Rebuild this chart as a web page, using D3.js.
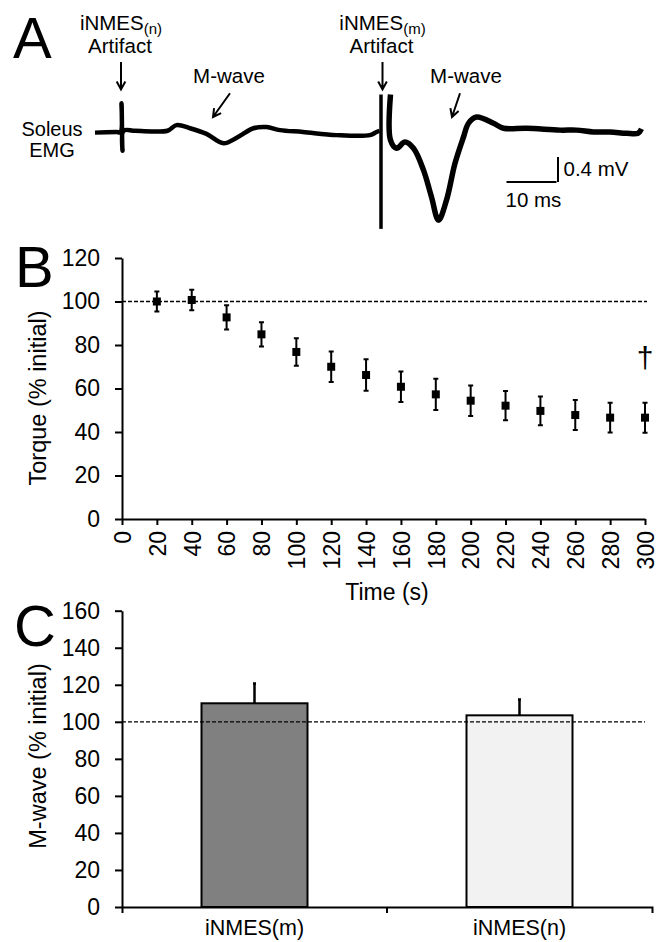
<!DOCTYPE html>
<html>
<head>
<meta charset="utf-8">
<script src="https://cdn.jsdelivr.net/npm/d3@7"></script>
<style>
  body { margin: 0; background: #fff; }
  text { font-family: Arial, "Liberation Sans", sans-serif; fill: #000; }
</style>
</head>
<body>
<script>
// Panel A: soleus EMG trace (ms, mV)
const emgTimeA = [0, 4.3, 5.1, 5.3, 5.5, 5.7, 8, 14.5, 16.3, 19, 22.3, 25.7, 28.6, 31.7, 34.3, 37, 41.6, 48.3, 55, 56.3, 56.9];
const emgVoltA = [-0.01, 0, 0, 0.46, -0.3, 0.02, 0.02, 0.02, 0.11, 0.06, -0.03, -0.18, -0.08, 0.06, 0.08, 0.03, 0, -0.05, -0.05, 0, 0.02];
const artifactTime = [57.2, 57.2];
const artifactVolt = [0.6, -1.55];
const emgTimeB = [59.1, 59.1, 60.3, 62, 63.7, 65.7, 67.3, 68.7, 70.3, 72, 73.7, 74.7, 76.3, 79.7, 81.7, 86.3, 93, 96.3, 99.7, 103, 106.3, 108.6, 109.3];
const emgVoltB = [0.6, -0.13, -0.26, -0.16, -0.26, -0.61, -1.04, -1.41, -1.09, -0.5, -0.08, 0.14, 0.24, 0.14, 0.06, 0.06, 0.03, 0.03, 0, 0, -0.02, -0.02, 0.05];

// Panel B: torque over time
const timeS = [20, 40, 60, 80, 100, 120, 140, 160, 180, 200, 220, 240, 260, 280, 300];
const torqueMean = [100, 100.7, 92.7, 84.9, 76.8, 70, 66.2, 60.8, 57.3, 54.4, 52.1, 49.7, 47.8, 46.6, 46.6];
const torqueErr = [4.6, 4.7, 5.6, 5.6, 6.3, 7, 7.2, 7, 7.2, 7, 6.7, 6.6, 6.9, 6.8, 6.9];
const timeTicks = [0, 20, 40, 60, 80, 100, 120, 140, 160, 180, 200, 220, 240, 260, 280, 300];
const torqueTicks = [0, 20, 40, 60, 80, 100, 120];

// Panel C: M-wave amplitude
const groups = ["iNMES(m)", "iNMES(n)"];
const mwaveMean = [110, 103.5];
const mwaveErr = [10.7, 8.6];
const mwaveTicks = [0, 20, 40, 60, 80, 100, 120, 140, 160];

const W = 658, H = 942;
const fillFor = { "iNMES(m)": "#808080", "iNMES(n)": "#f2f2f2" };

const svg = d3.select("body").append("svg")
  .attr("width", W)
  .attr("height", H);

// Panel letters
[["A", 13, 58], ["B", 15, 287], ["C", 14, 646]].forEach(function(p) {
  svg.append("text").attr("x", p[1]).attr("y", p[2])
    .style("font-size", "58px").text(p[0]);
});

function arrow(g, x1, y1, x2, y2) {
  const a = Math.atan2(y2 - y1, x2 - x1);
  const L = 9, s = 0.5;
  g.append("path")
    .attr("d", "M" + x1 + "," + y1 + "L" + x2 + "," + y2 +
      "M" + (x2 - L * Math.cos(a - s)) + "," + (y2 - L * Math.sin(a - s)) +
      "L" + x2 + "," + y2 +
      "L" + (x2 - L * Math.cos(a + s)) + "," + (y2 - L * Math.sin(a + s)))
    .attr("fill", "none").attr("stroke", "#000").attr("stroke-width", 2);
}

// ---------- Panel A ----------
const xA = d3.scaleLinear().domain([0, 110]).range([95, 645]);
const yA = d3.scaleLinear().domain([0, 0.4]).range([132, 107]);
const gA = svg.append("g");

const traceLine = d3.line()
  .x(function(d) { return xA(d[0]); })
  .y(function(d) { return yA(d[1]); })
  .curve(d3.curveCatmullRom.alpha(0.5));

gA.append("path")
  .datum(d3.zip(emgTimeA, emgVoltA))
  .attr("d", traceLine)
  .attr("fill", "none").attr("stroke", "#000")
  .attr("stroke-width", 4.5).attr("stroke-linejoin", "round");

gA.append("path")
  .datum(d3.zip(artifactTime, artifactVolt))
  .attr("d", d3.line().x(function(d) { return xA(d[0]); }).y(function(d) { return yA(d[1]); }))
  .attr("fill", "none").attr("stroke", "#000").attr("stroke-width", 3.5);

gA.append("path")
  .datum(d3.zip(emgTimeB, emgVoltB))
  .attr("d", traceLine)
  .attr("fill", "none").attr("stroke", "#000")
  .attr("stroke-width", 5.5).attr("stroke-linejoin", "round");

// labels and arrows
gA.append("text").attr("x", 52).attr("y", 136).attr("text-anchor", "middle")
  .style("font-size", "20px").text("Soleus");
gA.append("text").attr("x", 52).attr("y", 157).attr("text-anchor", "middle")
  .style("font-size", "20px").text("EMG");

function stimLabel(t, sub) {
  const lab = gA.append("text").attr("x", xA(t)).attr("y", yA(1.63))
    .attr("text-anchor", "middle").style("font-size", "20.5px");
  lab.append("tspan").text("iNMES");
  lab.append("tspan").attr("dy", 4).style("font-size", "15px").text("(" + sub + ")");
  gA.append("text").attr("x", xA(t) - 1).attr("y", yA(1.26))
    .attr("text-anchor", "middle").style("font-size", "20.5px").text("Artifact");
  arrow(gA, xA(t), yA(1.12), xA(t), yA(0.68));
}
stimLabel(5.2, "n");
stimLabel(57.5, "m");

gA.append("text").attr("x", xA(26.8)).attr("y", yA(0.78)).attr("text-anchor", "middle")
  .style("font-size", "20.5px").text("M-wave");
arrow(gA, xA(27), yA(0.62), xA(23.6), yA(0.24));
gA.append("text").attr("x", xA(74.2)).attr("y", yA(0.78)).attr("text-anchor", "middle")
  .style("font-size", "20.5px").text("M-wave");
arrow(gA, xA(73), yA(0.62), xA(71.4), yA(0.24));

// scale bar: 10 ms x 0.4 mV
const sbT = 82.3, sbV = -0.8;
gA.append("path")
  .attr("d", "M" + xA(sbT) + "," + yA(sbV) + "H" + xA(sbT + 10) +
    "M" + (xA(sbT + 10) + 1.5) + "," + yA(sbV) + "V" + yA(sbV + 0.4))
  .attr("fill", "none").attr("stroke", "#000").attr("stroke-width", 2);
gA.append("text").attr("x", xA(sbT + 10) + 7).attr("y", yA(sbV + 0.4) + 19)
  .style("font-size", "20.5px").text("0.4 mV");
gA.append("text").attr("x", xA(sbT) - 1).attr("y", yA(sbV) + 25)
  .style("font-size", "20.5px").text("10 ms");

// ---------- Panel B ----------
const xB = d3.scaleLinear().domain([0, 300]).range([122, 645]);
const yB = d3.scaleLinear().domain([0, 120]).range([519, 258]);
const gB = svg.append("g");

gB.append("line")
  .attr("x1", xB(0)).attr("x2", xB(300) + 2)
  .attr("y1", yB(100)).attr("y2", yB(100))
  .attr("stroke", "#000").attr("stroke-width", 1.3).attr("stroke-dasharray", "4,2");

const xAxisB = gB.append("g")
  .attr("transform", "translate(0," + yB(0) + ")")
  .call(d3.axisBottom(xB).tickValues(timeTicks).tickSize(6).tickSizeOuter(0));
xAxisB.selectAll("text")
  .attr("transform", "rotate(-90)")
  .attr("text-anchor", "end")
  .attr("x", -12).attr("y", 0).attr("dy", "0.36em");

const yAxisB = gB.append("g")
  .attr("transform", "translate(" + xB(0) + ",0)")
  .call(d3.axisLeft(yB).tickValues(torqueTicks).tickSize(7).tickPadding(15).tickSizeOuter(0));

[xAxisB, yAxisB].forEach(function(ax) {
  ax.select(".domain").attr("stroke-width", 2);
  ax.selectAll(".tick line").attr("stroke-width", 2);
  ax.selectAll("text").style("font-size", "23px").attr("font-family", null);
});

gB.selectAll(".err").data(timeS).enter().append("path")
  .attr("d", function(d, i) {
    const cx = xB(d), y1 = yB(torqueMean[i] + torqueErr[i]), y2 = yB(torqueMean[i] - torqueErr[i]);
    return "M" + cx + "," + y1 + "V" + y2 + "M" + (cx - 2.5) + "," + y1 + "H" + (cx + 2.5) +
      "M" + (cx - 2.5) + "," + y2 + "H" + (cx + 2.5);
  })
  .attr("fill", "none").attr("stroke", "#000").attr("stroke-width", 2);

gB.selectAll(".dot").data(timeS).enter().append("rect")
  .attr("x", function(d) { return xB(d) - 4; })
  .attr("y", function(d, i) { return yB(torqueMean[i]) - 4; })
  .attr("width", 8).attr("height", 8).attr("fill", "#000");

gB.append("text").attr("x", xB(300)).attr("y", yB(74) + 10)
  .attr("text-anchor", "middle").style("font-size", "30px").text("\u2020");

gB.append("text")
  .attr("x", 387).attr("y", 600)
  .attr("text-anchor", "middle").style("font-size", "23px").text("Time (s)");
gB.append("text")
  .attr("transform", "translate(46,398) rotate(-90)")
  .attr("text-anchor", "middle").style("font-size", "23.5px").text("Torque (% initial)");

// ---------- Panel C ----------
const xC = d3.scaleBand().domain(groups).range([122, 652]).padding(0);
const yC = d3.scaleLinear().domain([0, 160]).range([907, 610.7]);
const gC = svg.append("g");

gC.selectAll(".bar").data(groups).enter().append("rect")
  .attr("x", function(d) { return xC(d) + xC.bandwidth() * 0.3; })
  .attr("y", function(d, i) { return yC(mwaveMean[i]); })
  .attr("width", xC.bandwidth() * 0.4)
  .attr("height", function(d, i) { return yC(0) - yC(mwaveMean[i]); })
  .attr("fill", function(d) { return fillFor[d]; })
  .attr("stroke", "#000").attr("stroke-width", 2);

gC.selectAll(".errc").data(groups).enter().append("path")
  .attr("d", function(d, i) {
    const cx = xC(d) + xC.bandwidth() / 2;
    return "M" + cx + "," + yC(mwaveMean[i]) + "V" + yC(mwaveMean[i] + mwaveErr[i]) +
      "M" + (cx - 1.5) + "," + yC(mwaveMean[i] + mwaveErr[i]) + "H" + (cx + 1.5);
  })
  .attr("fill", "none").attr("stroke", "#000").attr("stroke-width", 2.5);

gC.append("line")
  .attr("x1", xC.range()[0]).attr("x2", 645)
  .attr("y1", yC(100)).attr("y2", yC(100))
  .attr("stroke", "#000").attr("stroke-width", 1.3).attr("stroke-dasharray", "4,2");

const xAxisC = gC.append("g")
  .attr("transform", "translate(0," + yC(0) + ")")
  .call(d3.axisBottom(xC).tickSize(0).tickSizeOuter(6).tickPadding(13));
xAxisC.append("line")
  .attr("x1", xC(groups[1])).attr("x2", xC(groups[1]))
  .attr("y1", 0).attr("y2", 6).attr("stroke", "#000").attr("stroke-width", 2);

const yAxisC = gC.append("g")
  .attr("transform", "translate(" + xC.range()[0] + ",0)")
  .call(d3.axisLeft(yC).tickValues(mwaveTicks).tickSize(7).tickPadding(15).tickSizeOuter(0));

[xAxisC, yAxisC].forEach(function(ax) {
  ax.select(".domain").attr("stroke-width", 2);
  ax.selectAll(".tick line").attr("stroke-width", 2);
  ax.selectAll("text").style("font-size", "23px").attr("font-family", null);
});
xAxisC.selectAll("text").style("font-size", "21.5px");

gC.append("text")
  .attr("transform", "translate(46,756) rotate(-90)")
  .attr("text-anchor", "middle").style("font-size", "23.5px").text("M-wave (% initial)");
</script>
</body>
</html>
